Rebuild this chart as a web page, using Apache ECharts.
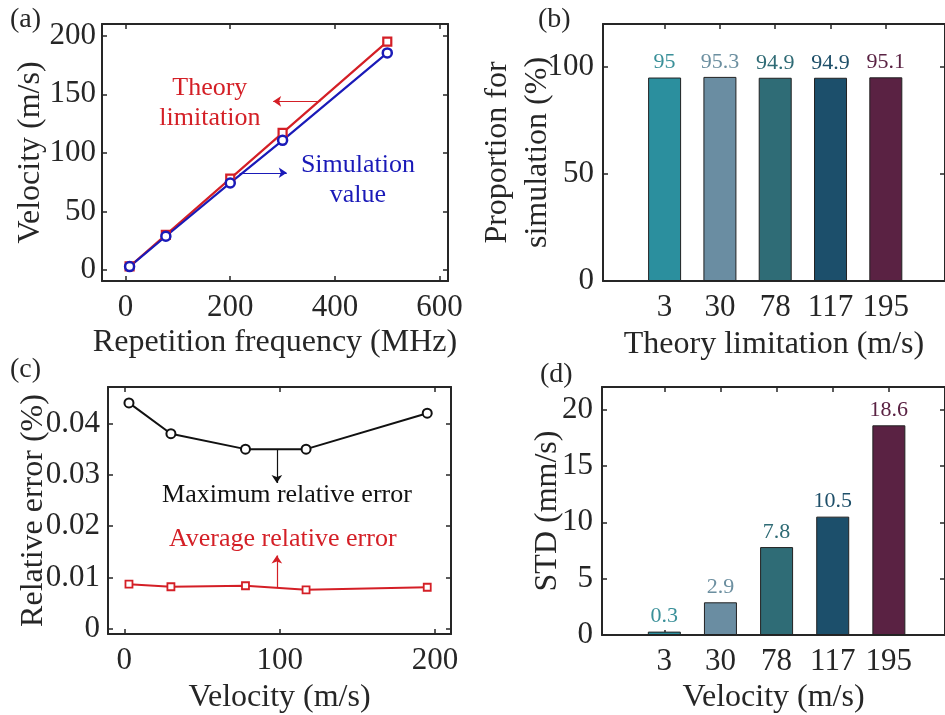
<!DOCTYPE html>
<html>
<head>
<meta charset="utf-8">
<script src="https://cdn.jsdelivr.net/npm/echarts@6/dist/echarts.min.js"></script>
<style>
  html, body { margin: 0; padding: 0; background: #fff; overflow: hidden; }
  #main { width: 945px; height: 715px; }
</style>
</head>
<body>
<div id="main"></div>
<script>
// (a) velocity vs repetition frequency
const freq = [7.7, 77, 200, 300, 500];
const theoryVel = [3, 30, 78, 117, 195];
const simVel = [2.9, 28.8, 74.3, 110.7, 185.3];
// (b) / (d) categories
const velCats = ['3', '30', '78', '117', '195'];
const proportion = [95, 95.3, 94.9, 94.9, 95.1];
const stdVals = [0.3, 2.9, 7.8, 10.5, 18.6];
// (c) relative error
const velocity = [3, 30, 78, 117, 195];
const maxErr = [0.044, 0.038, 0.035, 0.035, 0.042];
const avgErr = [0.0087, 0.0082, 0.0084, 0.0076, 0.0081];
// tick labels
const ticksAx = [0, 200, 400, 600];
const ticksAy = [0, 50, 100, 150, 200];
const ticksBy = [0, 50, 100];
const ticksCx = [0, 100, 200];
const ticksCy = [0, 0.01, 0.02, 0.03, 0.04];
const ticksDy = [0, 5, 10, 15, 20];
const catPos = [1, 2, 3, 4, 5];

const barColors = ['#2b8f9e', '#6a8da2', '#2f6c76', '#1c4f6b', '#5a2243'];
const labelColors = ['#3a9099', '#6c8fa0', '#2f6b75', '#1e4f69', '#5a2243'];
const RED = '#d41f26';
const BLUE = '#1a1ab8';
const INK = '#262626';
const FONT = 'Liberation Serif';

let myecharts = echarts.init(document.getElementById('main'));

function xAx(grid, pos, min, max, ticks, fmt, name, nameGap) {
  return {
    type: 'value', gridIndex: grid, position: pos, min: min, max: max,
    name: pos === 'bottom' ? name : '', nameLocation: 'middle', nameGap: nameGap,
    nameMoveOverlap: false,
    nameTextStyle: { fontSize: 32, color: INK, fontFamily: FONT },
    axisLine: { show: true, onZero: false, lineStyle: { color: INK, width: 2 } },
    axisTick: { show: true, inside: true, length: 5, customValues: ticks, lineStyle: { color: INK, width: 1.5 } },
    axisLabel: { show: pos === 'bottom', customValues: ticks, formatter: fmt, fontSize: 31, color: INK, fontFamily: FONT, margin: 11 },
    splitLine: { show: false }
  };
}
function yAx(grid, pos, min, max, ticks, name, nameGap, margin) {
  return {
    type: 'value', gridIndex: grid, position: pos, min: min, max: max,
    name: pos === 'left' ? name : '', nameLocation: 'middle', nameGap: nameGap,
    nameMoveOverlap: false,
    nameTextStyle: { fontSize: 32, color: INK, fontFamily: FONT, lineHeight: 40 },
    axisLine: { show: true, onZero: false, lineStyle: { color: INK, width: 2 } },
    axisTick: { show: true, inside: true, length: 5, customValues: ticks, lineStyle: { color: INK, width: 1.5 } },
    axisLabel: { show: pos === 'left', customValues: ticks, fontSize: 31, color: INK, fontFamily: FONT, margin: margin },
    splitLine: { show: false }
  };
}
const catFmt = function (v) { return velCats[Math.round(v) - 1]; };

function barSeries(axisIdx, values) {
  return {
    type: 'bar', xAxisIndex: axisIdx, yAxisIndex: axisIdx, barWidth: 33,
    data: values.map(function (v, i) {
      return {
        value: [catPos[i], v],
        itemStyle: { color: barColors[i] },
        label: { color: labelColors[i] }
      };
    }),
    itemStyle: { borderColor: '#222', borderWidth: 1 },
    label: { show: true, position: 'top', distance: 4, fontSize: 22, fontFamily: FONT }
  };
}

function note(x, y, text, color, size) {
  return {
    coord: [x, y], symbol: 'circle', symbolSize: 0,
    label: { show: true, position: 'inside', formatter: text, color: color, fontSize: size, lineHeight: size + 4, fontFamily: FONT }
  };
}
function arrow(x1, y1, x2, y2, color) {
  return {
    symbol: ['none', 'arrow'], symbolSize: 8, silent: true,
    label: { show: false },
    itemStyle: { color: color },
    lineStyle: { color: color, width: 1.2, type: 'solid' },
    data: [[{ coord: [x1, y1] }, { coord: [x2, y2] }]]
  };
}

myecharts.setOption({
  animation: false,
  textStyle: { fontFamily: FONT },
  grid: [
    { left: 102, top: 24, width: 346, height: 257 },
    { left: 603, top: 24, width: 343, height: 257 },
    { left: 108, top: 387, width: 343, height: 249 },
    { left: 602, top: 387, width: 344, height: 250 }
  ],
  xAxis: [
    xAx(0, 'bottom', -45, 616, ticksAx, null, 'Repetition frequency (MHz)', 46),
    xAx(1, 'bottom', -0.114, 6.07, catPos, catFmt, 'Theory limitation (m/s)', 48),
    xAx(2, 'bottom', -10.5, 210.3, ticksCx, null, 'Velocity (m/s)', 48),
    xAx(3, 'bottom', -0.11, 6.0, catPos, catFmt, 'Velocity (m/s)', 47),
    xAx(0, 'top', -45, 616, ticksAx, null, '', 0),
    xAx(1, 'top', -0.114, 6.07, catPos, catFmt, '', 0),
    xAx(2, 'top', -10.5, 210.3, ticksCx, null, '', 0),
    xAx(3, 'top', -0.11, 6.0, catPos, catFmt, '', 0)
  ],
  yAxis: [
    yAx(0, 'left', -9.4, 210, ticksAy, 'Velocity (m/s)', 51, 6),
    yAx(1, 'left', 0, 120, ticksBy, 'Proportion for\nsimulation (%)', 45, 9),
    yAx(2, 'left', -0.001, 0.0471, ticksCy, 'Relative error (%)', 54, 8),
    yAx(3, 'left', 0, 22, ticksDy, 'STD (mm/s)', 34, 9),
    yAx(0, 'right', -9.4, 210, ticksAy, '', 0, 0),
    yAx(1, 'right', 0, 120, ticksBy, '', 0, 0),
    yAx(2, 'right', -0.001, 0.0471, ticksCy, '', 0, 0),
    yAx(3, 'right', 0, 22, ticksDy, '', 0, 0)
  ],
  series: [
    {
      type: 'line', xAxisIndex: 0, yAxisIndex: 0,
      data: freq.map(function (f, i) { return [f, theoryVel[i]]; }),
      symbol: 'rect', symbolSize: 8,
      lineStyle: { color: RED, width: 2.2 },
      itemStyle: { color: '#fff', borderColor: RED, borderWidth: 2.2 },
      markPoint: { data: [note(161, 142, 'Theory\nlimitation', RED, 26)] },
      markLine: arrow(372, 144, 282, 144, RED)
    },
    {
      type: 'line', xAxisIndex: 0, yAxisIndex: 0,
      data: freq.map(function (f, i) { return [f, simVel[i]]; }),
      symbol: 'circle', symbolSize: 9,
      lineStyle: { color: BLUE, width: 2.2 },
      itemStyle: { color: '#fff', borderColor: BLUE, borderWidth: 2.5 },
      markPoint: { data: [note(444, 77, 'Simulation\nvalue', BLUE, 26)] },
      markLine: arrow(218, 83, 308, 83, BLUE)
    },
    barSeries(1, proportion),
    {
      type: 'line', xAxisIndex: 2, yAxisIndex: 2,
      data: velocity.map(function (v, i) { return [v, maxErr[i]]; }),
      symbol: 'circle', symbolSize: 9,
      lineStyle: { color: '#111', width: 2 },
      itemStyle: { color: '#fff', borderColor: '#111', borderWidth: 2 },
      markPoint: { data: [note(104.7, 0.026, 'Maximum relative error', '#111', 26)] },
      markLine: arrow(98.2, 0.035, 98.2, 0.0284, '#111')
    },
    {
      type: 'line', xAxisIndex: 2, yAxisIndex: 2,
      data: velocity.map(function (v, i) { return [v, avgErr[i]]; }),
      symbol: 'rect', symbolSize: 7,
      lineStyle: { color: RED, width: 2 },
      itemStyle: { color: '#fff', borderColor: RED, borderWidth: 1.8 },
      markPoint: { data: [note(102, 0.0175, 'Average relative error', RED, 26)] },
      markLine: arrow(98.2, 0.0080, 98.2, 0.0143, RED)
    },
    barSeries(3, stdVals)
  ],
  graphic: [
    { type: 'text', left: 10, top: 6, style: { text: '(a)', fontSize: 28, fontFamily: FONT, fill: INK } },
    { type: 'text', left: 538, top: 6, style: { text: '(b)', fontSize: 28, fontFamily: FONT, fill: INK } },
    { type: 'text', left: 10, top: 356, style: { text: '(c)', fontSize: 28, fontFamily: FONT, fill: INK } },
    { type: 'text', left: 540, top: 361, style: { text: '(d)', fontSize: 28, fontFamily: FONT, fill: INK } }
  ]
});
</script>
</body>
</html>
